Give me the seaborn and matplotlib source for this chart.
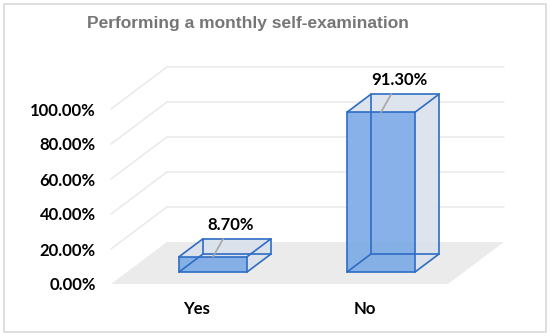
import matplotlib.pyplot as plt
import seaborn as sns
from matplotlib.patches import Polygon, Rectangle

categories = ["Yes", "No"]
percentages = [8.70, 91.30]
y_ticks = [0, 20, 40, 60, 80, 100]
title = "Performing a monthly self-examination"

# oblique "3d" look: shift per unit of depth, in data units
DX = 0.333
DY = 24.0
D_FRONT = 0.286
D_BACK = 0.714
XLIM = (-0.512, 1.494)

FRONT = (0.49, 0.67, 0.90)
SIDE = (0.86, 0.885, 0.925)
EDGE = "#2E6CC4"
LABEL_SIZE = 12


def main() -> None:
  sns.set_theme(style="white")
  plt.rcParams["font.family"] = ["Lato", "DejaVu Sans"]

  fig = plt.figure(figsize=(5.5, 3.36), dpi=100)
  ax = fig.add_axes([111 / 550, 52 / 336, 337 / 550, 175 / 336])
  ax.patch.set_alpha(0)

  sns.barplot(
    x=categories,
    y=percentages,
    width=0.405,
    color=FRONT,
    saturation=1,
    edgecolor=EDGE,
    linewidth=1.2,
    ax=ax,
    zorder=3,
  )
  ax.set_xlim(*XLIM)
  ax.set_ylim(0, 100)

  # floor + walls
  x0, x1 = XLIM
  floor = Polygon(
    [(x0, 0), (x1, 0), (x1 + DX, DY), (x0 + DX, DY)],
    closed=True, facecolor="#EBEBEB", edgecolor="none", zorder=0.5, clip_on=False,
  )
  ax.add_patch(floor)
  for t in y_ticks[1:]:
    ax.plot([x0 + DX, x1 + DX], [t + DY, t + DY], color="#E9E9E9", lw=1.1,
            zorder=0.6, clip_on=False)
    ax.plot([x0, x0 + DX], [t, t + DY], color="#E9E9E9", lw=1.1,
            zorder=0.6, clip_on=False)

  bars = [p for p in ax.patches if isinstance(p, Rectangle)]
  for p, val in zip(bars, percentages):
    bx0, w, h = p.get_x(), p.get_width(), p.get_height()
    fx, fy = bx0 + D_FRONT * DX, D_FRONT * DY
    bx, by = bx0 + D_BACK * DX, D_BACK * DY
    p.set_x(fx)
    p.set_y(fy)
    p.set_facecolor(FRONT + (0.92,))
    p.set_clip_on(False)

    right = [(fx + w, fy), (bx + w, by), (bx + w, by + h), (fx + w, fy + h)]
    top = [(fx, fy + h), (fx + w, fy + h), (bx + w, by + h), (bx, by + h)]
    for face in (right, top):
      ax.add_patch(Polygon(face, closed=True, facecolor=SIDE + (0.9,),
                           edgecolor="none", zorder=2, clip_on=False))

    # remaining box edges
    ax.add_patch(Rectangle((bx, by), w, h, fill=False, edgecolor=EDGE, lw=1.2,
                           zorder=4, clip_on=False))
    for cx in (0, w):
      for cy in (0, h):
        ax.plot([fx + cx, bx + cx], [fy + cy, by + cy], color=EDGE, lw=1.2,
                zorder=4, clip_on=False)

    ax.annotate(
      f"{val:.2f}%",
      xy=(fx + w / 2, fy + h),
      xytext=(13, 23),
      textcoords="offset points",
      ha="center",
      va="center",
      fontsize=LABEL_SIZE,
      fontweight="bold",
      color="black",
      arrowprops=dict(arrowstyle="-", color="#A6A6A6", lw=1.2, shrinkA=2, shrinkB=0),
      zorder=6,
      annotation_clip=False,
    )

  ax.set_yticks(y_ticks)
  ax.set_yticklabels([f"{t:.2f}%" for t in y_ticks])
  ax.tick_params(axis="y", length=0, pad=11, labelsize=LABEL_SIZE)
  ax.tick_params(axis="x", length=0, pad=12, labelsize=LABEL_SIZE)
  for lab in ax.get_xticklabels() + ax.get_yticklabels():
    lab.set_fontweight("bold")
    lab.set_color("black")
  sns.despine(ax=ax, left=True, bottom=True)
  ax.set_xlabel("")
  ax.set_ylabel("")

  fig.text(0.45, 0.93, title, ha="center", va="center", fontsize=12.5,
           fontweight="bold", color="#767676",
           family=["Liberation Sans", "DejaVu Sans"])
  fig.add_artist(Rectangle((4 / 550, 4 / 336), 542 / 550, 328 / 336,
                           transform=fig.transFigure, fill=False,
                           edgecolor="#D9D9D9", lw=1.2))

  fig.savefig("out.png", dpi=100)
  plt.close(fig)


main()
